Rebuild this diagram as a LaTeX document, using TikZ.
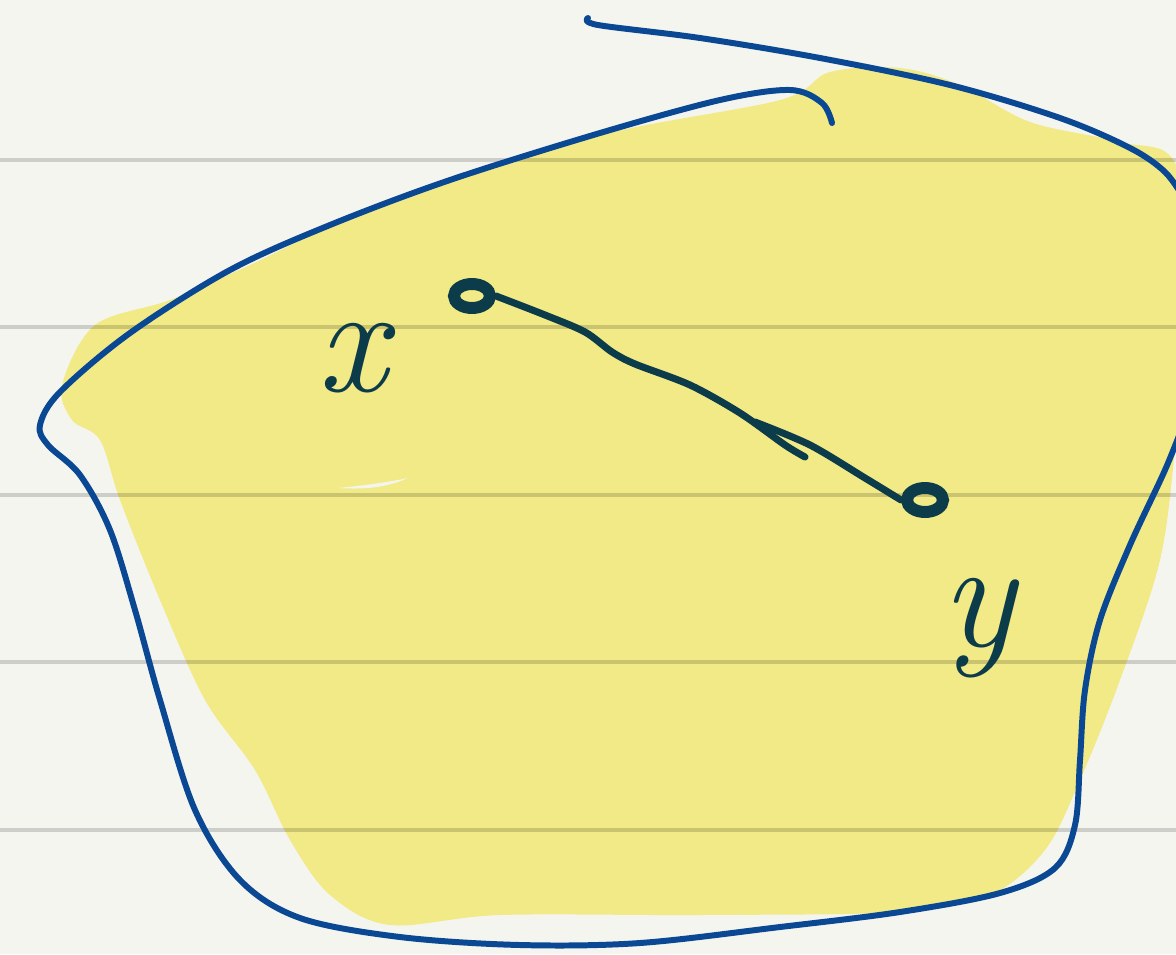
\documentclass[tikz,border=0pt]{standalone}
\usetikzlibrary{calc,shapes.geometric}
\definecolor{paper}{HTML}{F5F5F0}
\definecolor{rule}{HTML}{000000}
\definecolor{blob}{HTML}{F1EA87}
\definecolor{pen}{HTML}{0B4893}
\definecolor{ink}{HTML}{0C3C4A}
\tikzset{
  ruleline/.style={draw=rule, draw opacity=0.16, line width=1.1pt},
  bluepen/.style={draw=pen, line width=1.7pt, line cap=round, line join=round},
  inkpen/.style={draw=ink, line width=2pt, line cap=round, line join=round},
  pointnode/.style={ellipse, draw=ink, line width=3.4pt, minimum width=0.36cm, minimum height=0.24cm, inner sep=0pt},
  labeltext/.style={text=ink, font=\fontsize{44}{44}\selectfont\itshape}
}
\begin{document}
\begin{tikzpicture}[x=0.01cm,y=-0.01cm]
\useasboundingbox (0,0) rectangle (1176,954);
\fill[paper] (0,0) rectangle (1176,954);
% yellow blob
\fill[blob] plot[smooth cycle, tension=0.55] coordinates {
  (62,385) (95,325) (170,300) (250,265) (400,195) (600,135) (780,100) (830,72)
  (900,68) (960,85) (1030,122) (1120,142) (1176,165) (1190,300) (1176,440)
  (1160,560) (1120,680) (1080,780) (1045,850) (990,895) (900,912) (700,915)
  (500,915) (390,925) (330,895) (290,840) (255,770) (205,700) (160,600)
  (120,500) (100,440) (72,420)};
\fill[paper] (338,488) .. controls (370,490) and (390,486) .. (408,478)
  .. controls (390,482) and (360,486) .. (338,488) -- cycle;
% ruled lines
\foreach \yy in {160,327,495,662,830}
  \draw[ruleline] (0,\yy) -- (1176,\yy);
% blue outline
\draw[bluepen] plot[smooth, tension=0.55] coordinates {
  (588,18) (598,25) (700,38) (820,58) (950,85) (1060,118) (1130,148) (1165,172) (1185,200)};
\draw[bluepen] plot[smooth, tension=0.55] coordinates {
  (1185,420) (1165,470) (1130,545) (1100,620) (1085,690) (1080,760) (1075,825)
  (1055,868) (1000,893) (900,912) (780,927) (640,943) (520,945) (400,937)
  (300,918) (240,880) (195,810) (160,700) (135,610) (110,530) (80,475)
  (48,445) (40,425) (60,392) (130,333) (230,270) (330,225) (450,180) (600,133)
  (720,100) (790,90) (822,103) (832,123)};
% points
\node[pointnode] (px) at (472,296) {};
\node[pointnode] (py) at (925,500) {};
% connector
\draw[inkpen] plot[smooth, tension=0.5] coordinates {
  (px.east) (545,315) (585,332) (612,352) (635,364) (690,385) (740,413) (785,445) (805,457)};
\draw[inkpen] plot[smooth, tension=0.5] coordinates {
  (755,422) (810,445) (865,478) (py.west)};
% labels
\node[labeltext] (lx) at (352,358) {x};
\node[labeltext] (ly) at (978,628) {y};
\end{tikzpicture}
\end{document}
